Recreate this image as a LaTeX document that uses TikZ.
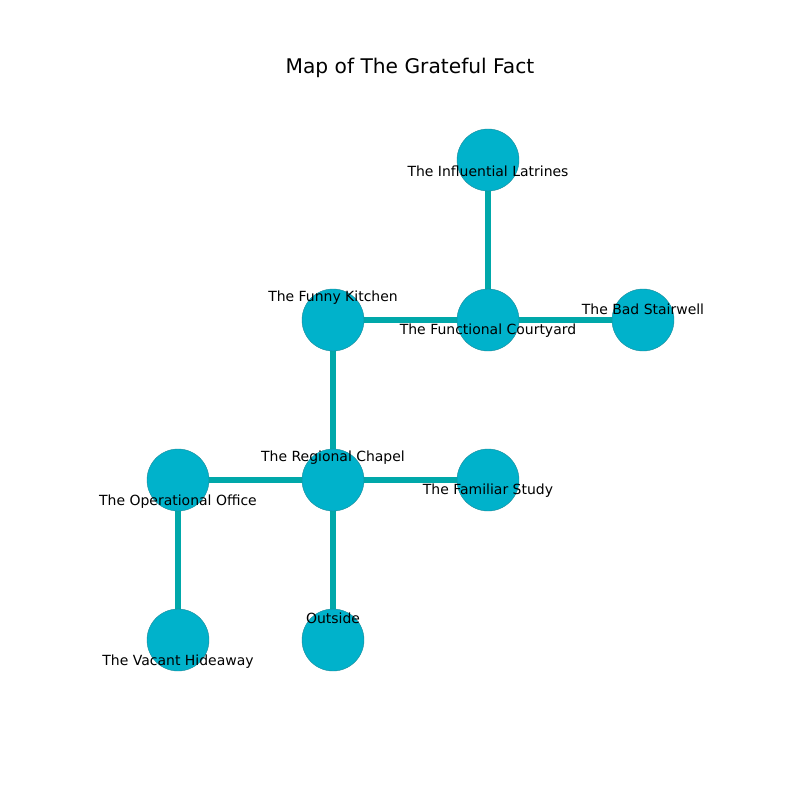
\documentclass[tikz,border=0pt]{standalone}
\usepackage{fontspec}
\setmainfont{DejaVu Sans}
\usepackage{tikz}
\usetikzlibrary{calc,backgrounds}
\definecolor{roomfill}{HTML}{00B2CB}
\definecolor{roomedge}{HTML}{1A8A99}
\definecolor{hall}{HTML}{00A8AA}
\tikzset{
  room/.style={circle, fill=roomfill, draw=roomedge, line width=0.3pt, minimum size=62*0.0254cm, inner sep=0pt},
  roomname/.style={font=\fontsize{10.1}{12}\selectfont, inner sep=0pt, text=black},
  hallway/.style={draw=hall, line width=4pt}
}
\begin{document}
\begin{tikzpicture}[x=0.0254cm, y=-0.0254cm]
			%%%%% START %%%%%
			
			\useasboundingbox (0, 0) rectangle (800, 800);
			\node[font=\fontsize{14.6}{16}\selectfont, inner sep=0pt] (title) at (410, 68) {Map of The Grateful Fact};
			
			\node[room] (latrines) at (488, 160) {};
			\node[room] (kitchen) at (333, 320) {};
			\node[room] (courtyard) at (488, 320) {};
			\node[room] (stairwell) at (643, 320) {};
			\node[room] (office) at (178, 480) {};
			\node[room] (chapel) at (333, 480) {};
			\node[room] (study) at (488, 480) {};
			\node[room] (hideaway) at (178, 640) {};
			\node[room] (outside) at (333, 640) {};
			
			\begin{scope}[on background layer]
			\draw[hallway] (latrines.center) -- (courtyard.center);
			\draw[hallway] (kitchen.center) -- (courtyard.center);
			\draw[hallway] (courtyard.center) -- (stairwell.center);
			\draw[hallway] (kitchen.center) -- (chapel.center);
			\draw[hallway] (office.center) -- (chapel.center);
			\draw[hallway] (chapel.center) -- (study.center);
			\draw[hallway] (chapel.center) -- (outside.center);
			\draw[hallway] (office.center) -- (hideaway.center);
			\end{scope}
			
			\node[roomname] at ($(latrines)+(0, 11)$) {The Influential Latrines};
			\node[roomname] at ($(kitchen)+(0, -22)$) {The Funny Kitchen};
			\node[roomname] at ($(courtyard)+(0, 11)$) {The Functional Courtyard};
			\node[roomname] at ($(stairwell)+(0, -11)$) {The Bad Stairwell};
			\node[roomname] at ($(office)+(0, 22)$) {The Operational Office};
			\node[roomname] at ($(chapel)+(0, -22)$) {The Regional Chapel};
			\node[roomname] at ($(study)+(0, 11)$) {The Familiar Study};
			\node[roomname] at ($(hideaway)+(0, 22)$) {The Vacant Hideaway};
			\node[roomname] at ($(outside)+(0, -22)$) {Outside};
			
			%%%%% END %%%%%
\end{tikzpicture}
\end{document}
